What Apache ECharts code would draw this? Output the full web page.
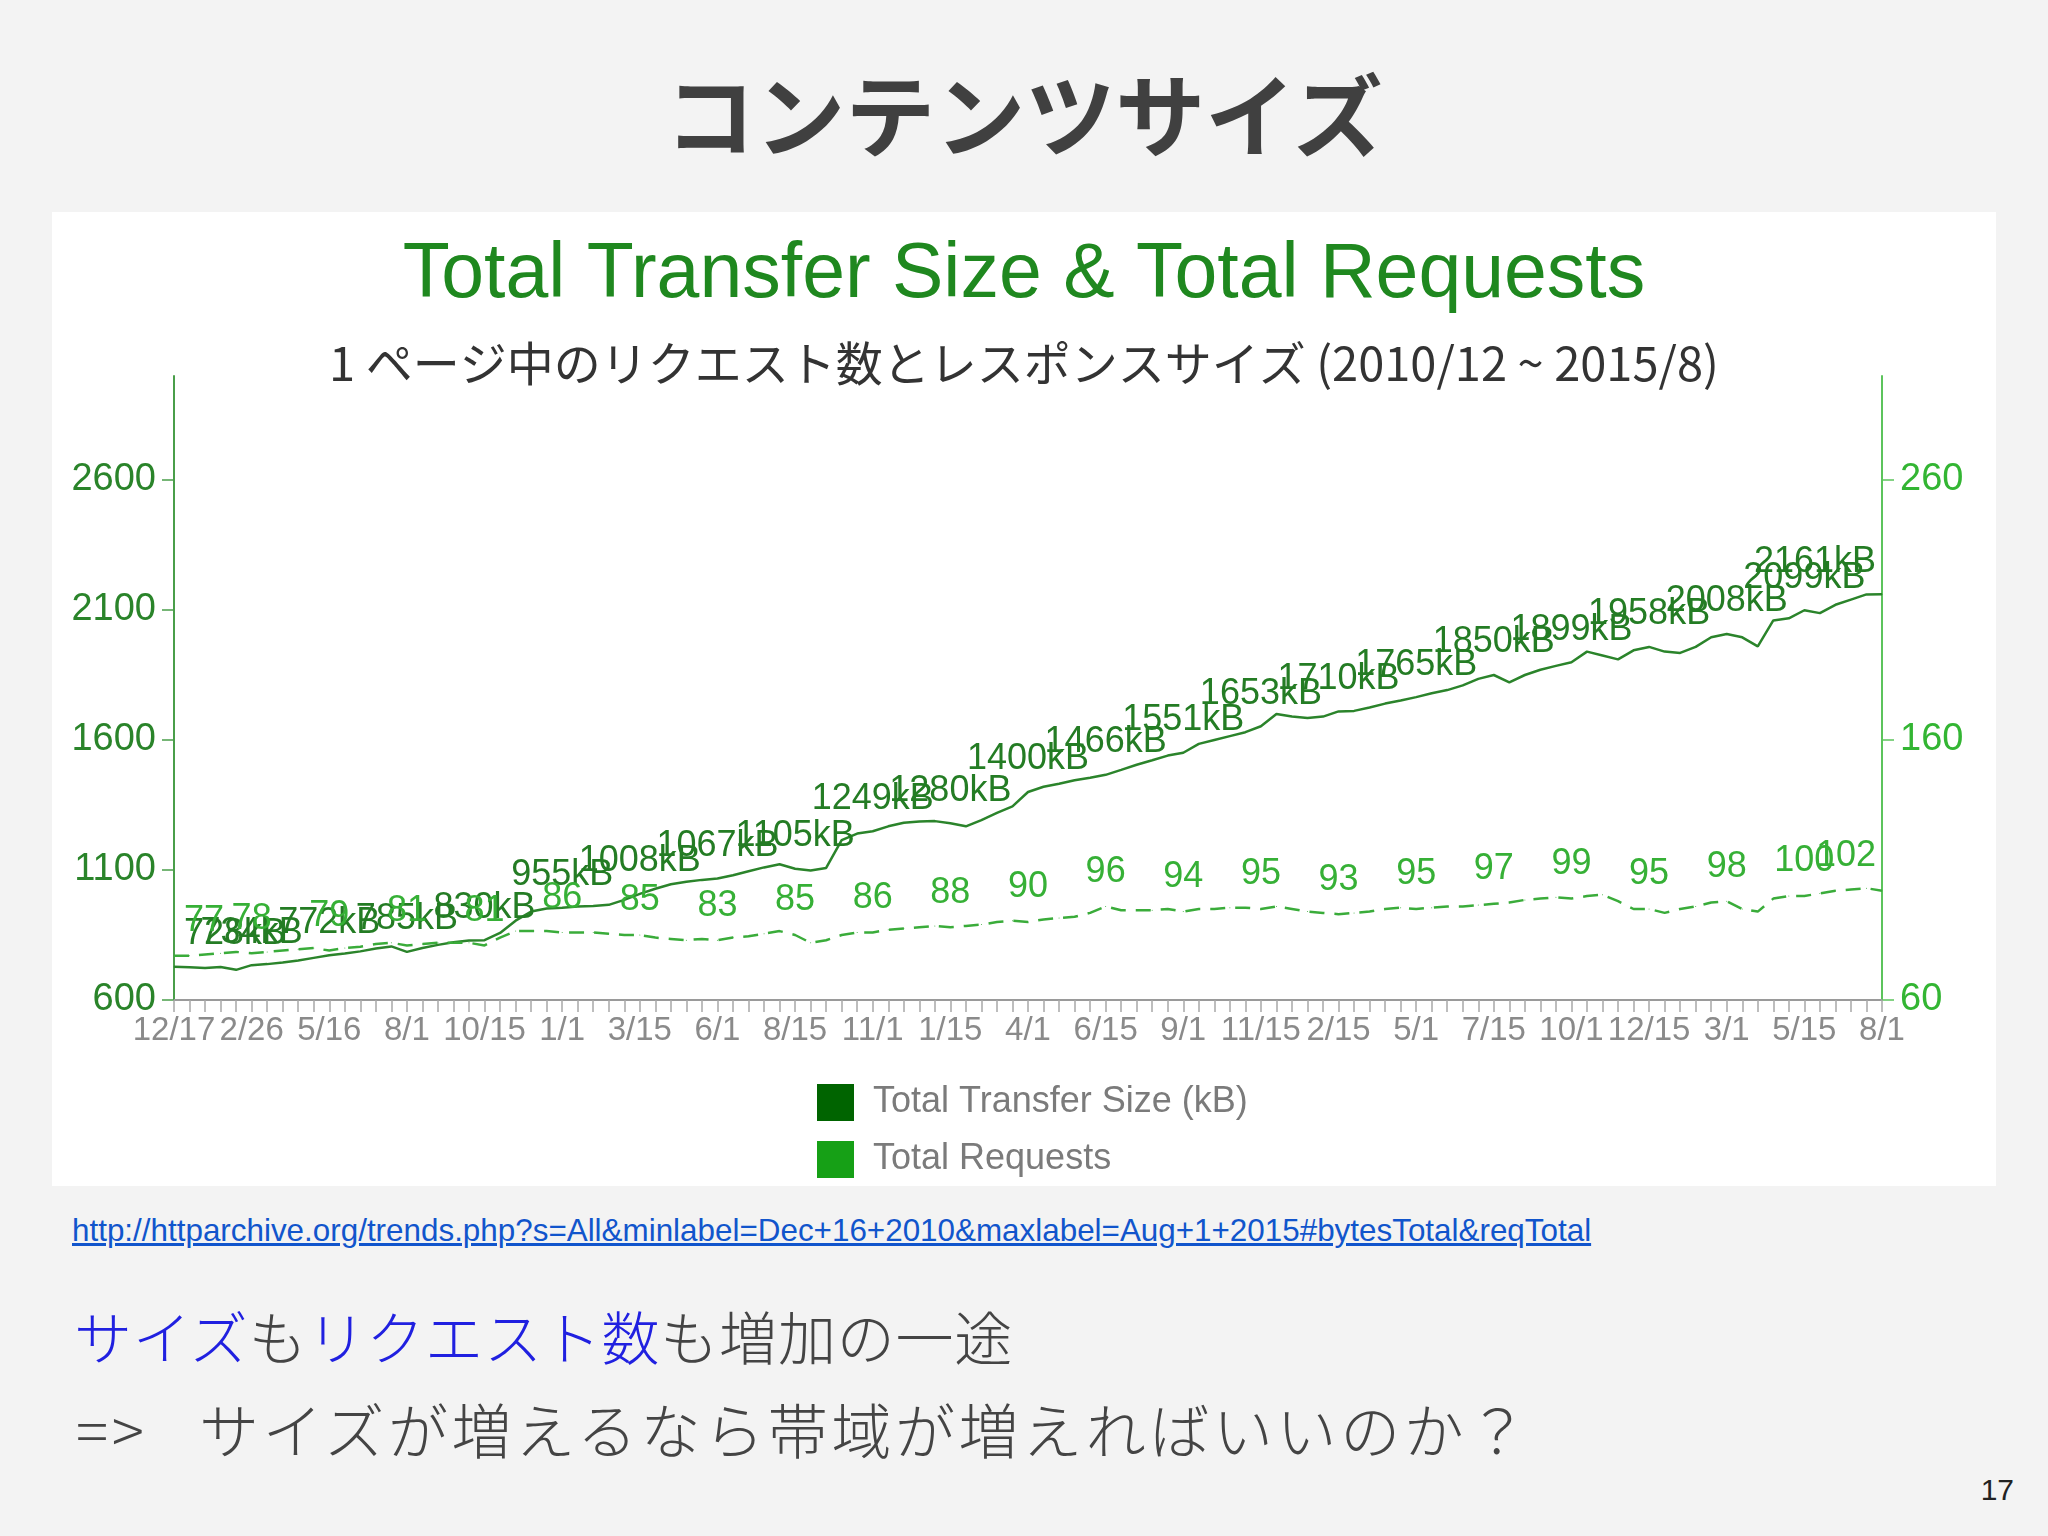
<!DOCTYPE html>
<html>
<head>
<meta charset="utf-8">
<title>コンテンツサイズ</title>
<script src="https://cdn.jsdelivr.net/npm/echarts@6/dist/echarts.min.js"></script>
<style>
html, body { margin: 0; padding: 0; }
body {
  width: 2048px;
  height: 1536px;
  background: #f3f3f3;
  position: relative;
  overflow: hidden;
  font-family: "Noto Sans CJK JP", sans-serif;
}
.slide-title {
  position: absolute;
  left: 0;
  width: 2048px;
  top: 61px;
  height: 100px;
  line-height: 100px;
  text-align: center;
  font-size: 90px;
  font-weight: bold;
  color: #404040;
}
#chart {
  position: absolute;
  left: 52px;
  top: 212px;
  width: 1944px;
  height: 974px;
  background: #fff;
}
.link {
  position: absolute;
  left: 72px;
  top: 1213px;
  font-family: "Liberation Sans", Arial, sans-serif;
  font-size: 31.4px;
  line-height: 36px;
  color: #1155cc;
  text-decoration: underline;
  white-space: nowrap;
}
.note {
  position: absolute;
  white-space: nowrap;
  font-weight: 300;
  color: #444;
}
.note1 { left: 74px; top: 1300px; font-size: 58px; line-height: 70px; letter-spacing: 0.8px; }
.note2 { left: 76px; top: 1393px; font-size: 60px; line-height: 70px; letter-spacing: 3.6px; }
.blue { color: #2020e0; }
.arrow { display: inline-block; width: 123px; }
.page {
  position: absolute;
  right: 34px;
  top: 1472px;
  font-family: "Liberation Sans", Arial, sans-serif;
  font-size: 30px;
  line-height: 36px;
  color: #222;
}
</style>
</head>
<body>
<div class="slide-title">コンテンツサイズ</div>
<div id="chart"></div>
<div class="link">http://httparchive.org/trends.php?s=All&amp;minlabel=Dec+16+2010&amp;maxlabel=Aug+1+2015#bytesTotal&amp;reqTotal</div>
<div class="note note1"><span class="blue">サイズ</span>も<span class="blue">リクエスト数</span>も増加の一途</div>
<div class="note note2"><span class="arrow">=&gt;</span>サイズが増えるなら帯域が増えればいいのか？</div>
<div class="page">17</div>
<script>
// dates of the http archive runs (2010/12 - 2015/8)
var dates = ("12/17 12/28 1/20 1/31 2/11 2/26 " +
  "3/15 4/1 4/15 5/1 5/16 6/1 6/15 7/1 7/15 8/1 " +
  "8/15 9/1 9/15 10/1 10/15 11/1 11/15 12/1 12/15 1/1 " +
  "1/15 2/1 2/15 3/1 3/15 4/1 4/15 5/1 5/15 6/1 " +
  "6/15 7/1 7/15 8/1 8/15 9/1 9/15 10/1 10/15 11/1 " +
  "11/15 12/1 12/15 1/1 1/15 2/1 2/15 3/1 3/15 4/1 " +
  "4/15 5/1 5/15 6/1 6/15 7/1 7/15 8/1 8/15 9/1 " +
  "9/15 10/1 10/15 11/1 11/15 12/1 12/15 1/15 2/1 2/15 " +
  "3/1 3/15 4/1 4/15 5/1 5/15 6/1 6/15 7/1 7/15 " +
  "8/1 8/15 9/1 9/15 10/1 10/15 11/1 11/15 12/1 12/15 " +
  "1/1 1/15 2/1 2/15 3/1 3/15 4/1 4/15 5/1 5/15 " +
  "6/1 6/15 7/1 7/15 8/1").split(" ");

// Total Transfer Size (kB)
var sizeKB = [
  728, 726, 723, 727, 716, 734, 738, 744, 752, 762,
  772, 779, 787, 798, 806, 785, 800, 812, 822, 829,
  830, 858, 905, 940, 952, 955, 960, 962, 966, 985,
  1008, 1028, 1045, 1055, 1062, 1067, 1080, 1095, 1110, 1122,
  1105, 1098, 1108, 1215, 1240, 1249, 1268, 1282, 1287, 1288,
  1280, 1268, 1292, 1320, 1345, 1400, 1420, 1432, 1445, 1455,
  1466, 1485, 1505, 1522, 1540, 1551, 1585, 1600, 1615, 1630,
  1653, 1700, 1690, 1685, 1690, 1710, 1712, 1725, 1740, 1752,
  1765, 1780, 1792, 1810, 1835, 1850, 1822, 1850, 1870, 1885,
  1899, 1940, 1925, 1910, 1945, 1958, 1940, 1935, 1958, 1995,
  2008, 1995, 1960, 2060, 2068, 2099, 2088, 2120, 2140, 2160,
  2161
];

// Total Requests
var requests = [
  77, 77, 77.5, 78, 78.5, 78, 78.5, 79, 79.5, 80,
  79, 80, 80.5, 81.5, 82, 81, 81.5, 82, 82, 82,
  81, 84, 86.5, 86.5, 86.5, 86, 86, 86, 85.5, 85,
  85, 84, 83.5, 83, 83.5, 83, 84, 84.5, 85.5, 86.5,
  85, 82, 83, 85, 86, 86, 87, 87.5, 88, 88.5,
  88, 88.5, 89, 90, 90.5, 90, 91, 91.5, 92, 93.5,
  96, 94.5, 94.5, 94.5, 95, 94, 95, 95, 95.5, 95.5,
  95, 96, 95, 94, 93.5, 93, 93.5, 94, 95, 95.5,
  95, 95.5, 96, 96, 96.5, 97, 97.5, 98.5, 99, 99.5,
  99, 100, 100.5, 98, 95, 95, 93.5, 95, 96, 97.5,
  98, 95, 94, 99, 100, 100, 101, 102, 102.5, 103,
  102
];

var leftTicks = [600, 1100, 1600, 2100, 2600];
var rightTicks = [60, 160, 260];

// every 5th point gets a value label, the two ends are pushed inside
function withLabels(values) {
  var last = values.length - 1;
  return values.map(function (v, i) {
    if (i % 5 !== 0) return v;
    var item = { value: v, label: { show: true } };
    if (i === 0) {
      item.label.align = "left";
      item.label.offset = [10, 0];
    }
    if (i === last) {
      item.label.align = "right";
      item.label.offset = [-6, 0];
    }
    return item;
  });
}

function plain(v) {
  return String(v);
}

var chart = echarts.init(document.getElementById("chart"));
var latin = "Liberation Sans, Arial, sans-serif";

chart.setOption({
  backgroundColor: "#fff",
  animation: false,
  title: {
    text: "Total Transfer Size & Total Requests",
    subtext: "1 ページ中のリクエスト数とレスポンスサイズ (2010/12 ~ 2015/8)",
    left: "center",
    top: 20,
    itemGap: 26,
    textStyle: {
      fontFamily: latin,
      fontSize: 77,
      fontWeight: "normal",
      color: "#1f881f"
    },
    subtextStyle: {
      fontFamily: "Noto Sans CJK JP, sans-serif",
      fontSize: 47,
      color: "#333"
    }
  },
  legend: {
    orient: "vertical",
    left: 760,
    top: 867,
    itemWidth: 37,
    itemHeight: 37,
    itemGap: 20,
    icon: "rect",
    selectedMode: false,
    textStyle: {
      fontFamily: latin,
      fontSize: 36,
      color: "#7b7b7b",
      padding: [0, 0, 0, 14]
    },
    data: [
      { name: "Total Transfer Size (kB)", itemStyle: { color: "#006400", borderWidth: 0 } },
      { name: "Total Requests", itemStyle: { color: "#16a016", borderWidth: 0 } }
    ]
  },
  grid: {
    left: 122,
    right: 114,
    top: 164,
    bottom: 186
  },
  xAxis: {
    type: "category",
    boundaryGap: false,
    data: dates,
    axisLine: { lineStyle: { color: "#9a9a9a", width: 2 } },
    axisTick: {
      interval: 0,
      length: 12,
      lineStyle: { color: "#a8a8a8", width: 1.5 }
    },
    axisLabel: {
      interval: 4,
      margin: 14,
      color: "#8a8a8a",
      fontSize: 33,
      fontFamily: latin
    }
  },
  yAxis: [
    {
      type: "value",
      position: "left",
      min: 600,
      max: 3000,
      splitLine: { show: false },
      axisLine: { show: true, lineStyle: { color: "#4a9e4a", width: 2 } },
      axisTick: {
        show: true,
        length: 12,
        customValues: leftTicks,
        lineStyle: { color: "#4a9e4a", width: 1.5 }
      },
      axisLabel: {
        customValues: leftTicks,
        formatter: plain,
        margin: 18,
        color: "#2a842a",
        fontSize: 38,
        fontFamily: latin
      }
    },
    {
      type: "value",
      position: "right",
      min: 60,
      max: 300,
      splitLine: { show: false },
      axisLine: { show: true, lineStyle: { color: "#5cc45c", width: 2 } },
      axisTick: {
        show: true,
        length: 12,
        customValues: rightTicks,
        lineStyle: { color: "#5cc45c", width: 1.5 }
      },
      axisLabel: {
        customValues: rightTicks,
        formatter: plain,
        margin: 18,
        color: "#33b533",
        fontSize: 38,
        fontFamily: latin
      }
    }
  ],
  series: [
    {
      name: "Total Transfer Size (kB)",
      type: "line",
      yAxisIndex: 0,
      symbol: "circle",
      symbolSize: 1,
      showAllSymbol: true,
      itemStyle: { color: "#2b842b" },
      lineStyle: { color: "#2b842b", width: 2.5 },
      label: {
        show: false,
        position: "top",
        distance: 14,
        formatter: "{c}kB",
        color: "#247c24",
        fontSize: 36,
        fontFamily: latin
      },
      data: withLabels(sizeKB)
    },
    {
      name: "Total Requests",
      type: "line",
      yAxisIndex: 1,
      symbol: "circle",
      symbolSize: 1,
      showAllSymbol: true,
      itemStyle: { color: "#3aac3a" },
      lineStyle: { color: "#3aac3a", width: 2.5, type: [15, 10] },
      label: {
        show: false,
        position: "top",
        distance: 16,
        formatter: "{c}",
        color: "#36b036",
        fontSize: 36,
        fontFamily: latin
      },
      data: withLabels(requests)
    }
  ]
});
</script>
</body>
</html>
